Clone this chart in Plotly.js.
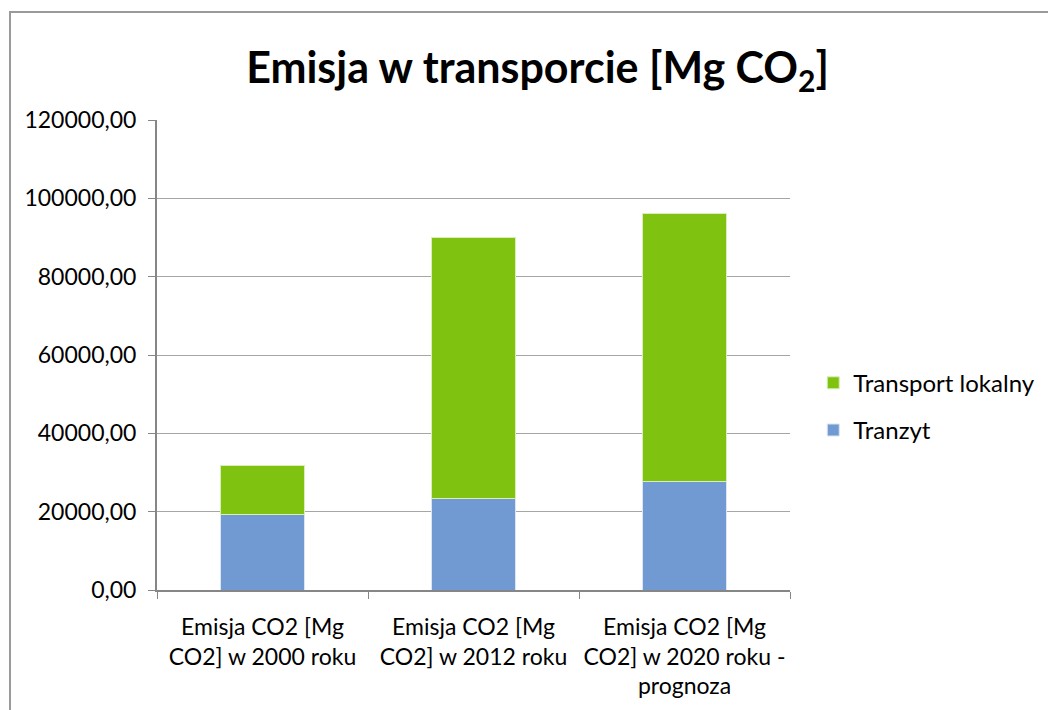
<!DOCTYPE html>
<html>
<head>
<meta charset="utf-8">
<script src="https://cdn.plot.ly/plotly-3.0.1.min.js"></script>
<style>
  html, body { margin: 0; padding: 0; background: #fff; }
  #wrap { position: relative; width: 1048px; height: 710px; overflow: hidden; }
  #chart { width: 1048px; height: 710px; }
  #frame { position: absolute; left: 9px; top: 11px; width: 1100px; height: 800px;
           border: 2px solid #9a9a9a; pointer-events: none; box-sizing: border-box; }
</style>
</head>
<body>
<div id="wrap">
  <div id="chart"></div>
  <div id="frame"></div>
</div>
<script>
const categories = [
  "Emisja CO2 [Mg<br>CO2] w 2000 roku",
  "Emisja CO2 [Mg<br>CO2] w 2012 roku",
  "Emisja CO2 [Mg<br>CO2] w 2020 roku -<br>prognoza"
];
const tranzyt = [19400, 23450, 27600];
const transportLokalny = [12500, 66650, 68500];
const yTicks = [0, 20000, 40000, 60000, 80000, 100000, 120000];

const font = "Lato, 'Open Sans', sans-serif";

const traces = [
  { type: "bar", name: "Tranzyt", x: categories, y: tranzyt,
    marker: { color: "#7199d2", line: { color: "#dbe5f3", width: 1 } },
    legendgroup: "a", legendrank: 2, hoverinfo: "y+name" },
  { type: "bar", name: "Transport lokalny", x: categories, y: transportLokalny,
    marker: { color: "#80c210", line: { color: "#d9eeb8", width: 1 } },
    legendgroup: "b", legendrank: 1, hoverinfo: "y+name" }
];

const layout = {
  width: 1048, height: 710,
  margin: { l: 157, r: 258, t: 120, b: 120, autoexpand: false },
  paper_bgcolor: "#ffffff", plot_bgcolor: "#ffffff",
  separators: ", ",
  barmode: "stack",
  bargap: 0.605,
  showlegend: true,
  title: { text: "<b>Emisja w transporcie [Mg CO<sub>2</sub>]</b>",
           font: { family: font, size: 43, color: "#000" },
           x: 0.513, xref: "container", xanchor: "center",
           y: 0.904, yref: "container", yanchor: "middle" },
  xaxis: {
    type: "category",
    tickson: "boundaries",
    tickangle: 0,
    ticks: "outside", ticklen: 7, tickcolor: "#868686", tickwidth: 1,
    ticklabelstandoff: 15,
    showline: true, linecolor: "#868686", linewidth: 2,
    showgrid: false,
    tickfont: { family: font, size: 23, color: "#000" },
    fixedrange: true
  },
  yaxis: {
    range: [0, 120000],
    tickvals: yTicks,
    tickformat: ".2f",
    ticks: "outside", ticklen: 7, tickcolor: "#868686", tickwidth: 1,
    ticklabelstandoff: 7,
    showline: true, linecolor: "#868686", linewidth: 2,
    showgrid: true, gridcolor: "#a6a6a6", gridwidth: 1,
    zeroline: false,
    tickfont: { family: font, size: 23, color: "#000" },
    fixedrange: true
  },
  legend: {
    xref: "container", x: 0.776, xanchor: "left", y: 0.39, yanchor: "middle",
    traceorder: "grouped", tracegroupgap: 13,
    font: { family: font, size: 24, color: "#000" },
    bgcolor: "rgba(0,0,0,0)"
  }
};

Plotly.newPlot("chart", traces, layout, { displayModeBar: false, staticPlot: true });
</script>
</body>
</html>
